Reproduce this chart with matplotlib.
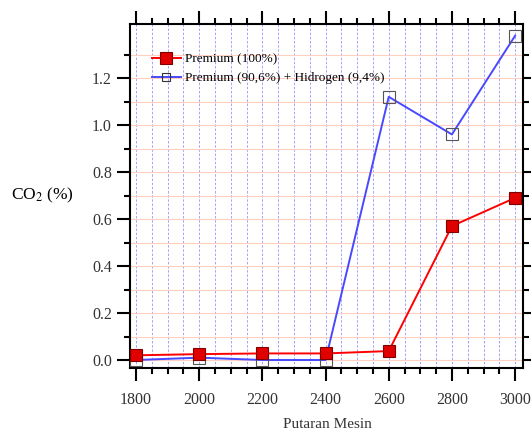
import matplotlib.pyplot as plt
from matplotlib.ticker import MultipleLocator, FixedLocator
from matplotlib.lines import Line2D

plt.rcParams['font.family'] = ['Liberation Serif', 'DejaVu Serif']

rpm = [1800, 2000, 2200, 2400, 2600, 2800, 3000]
premium = [0.020, 0.025, 0.028, 0.028, 0.038, 0.570, 0.690]
premium_h2 = [0.000, 0.010, 0.000, 0.000, 1.120, 0.960, 1.380]

fig = plt.figure(figsize=(5.31, 4.34), dpi=100)
ax = fig.add_axes([130/531, 1-368/434, 393/531, 344/434])

# grid
ax.xaxis.set_major_locator(MultipleLocator(200))
ax.xaxis.set_minor_locator(MultipleLocator(50))
ax.yaxis.set_major_locator(FixedLocator([0.0, 0.2, 0.4, 0.6, 0.8, 1.0, 1.2]))
ax.yaxis.set_minor_locator(FixedLocator([0.1, 0.3, 0.5, 0.7, 0.9, 1.1, 1.3]))
ax.grid(True, which='both', axis='x', color='#7070ff', ls=(0, (3, 2)), lw=0.6, alpha=0.75)
ax.grid(True, which='both', axis='y', color='#ffd0c0', ls='-', lw=0.8)
ax.set_axisbelow(True)

ax.plot(rpm, premium, color='red', lw=1.4, marker='s', ms=9,
        mfc='#e00000', mec='#800000', mew=0.8, zorder=4)
ax.plot(rpm, premium_h2, color='#4848ff', lw=1.4, marker='s', ms=9,
        mfc='none', mec='#555555', mew=0.8, zorder=3)

ax.set_xlim(1781, 3025)
ax.set_ylim(-0.034, 1.43)

ax.tick_params(which='both', direction='out', top=True, right=True, width=1.5,
               labelsize=11.5, labelcolor='#333333')
ax.tick_params(which='major', length=9.5)
ax.tick_params(which='minor', length=4.5)
ax.tick_params(axis='x', pad=8)
ax.set_yticklabels(['0.0', '0.2', '0.4', '0.6', '0.8', '1.0', '1.2'])
for s in ax.spines.values():
    s.set_linewidth(1.5)

fig.text(327/531, 1-424/434, 'Putaran Mesin', fontsize=11, ha='center', va='center',
         color='#333333')
fig.text(42/531, 1-195/434, 'CO$_2$ (%)', fontsize=12.5, ha='center', va='center',
         math_fontfamily='stix')

handles = [
    Line2D([], [], color='red', lw=1.4, marker='s', ms=9, mfc='#e00000', mec='#800000', mew=0.8),
    Line2D([], [], color='#4848ff', lw=1.4, marker='s', ms=6, mfc='none', mec='#333333', mew=0.8),
]
ax.legend(handles, ['Premium (100%)', 'Premium (90,6%) + Hidrogen (9,4%)'],
          loc='upper left', bbox_to_anchor=(0.025, 0.95), frameon=False,
          fontsize=9.5, handlelength=2.2, handletextpad=0.3, labelspacing=0.5)

plt.savefig('out.png', dpi=100)
